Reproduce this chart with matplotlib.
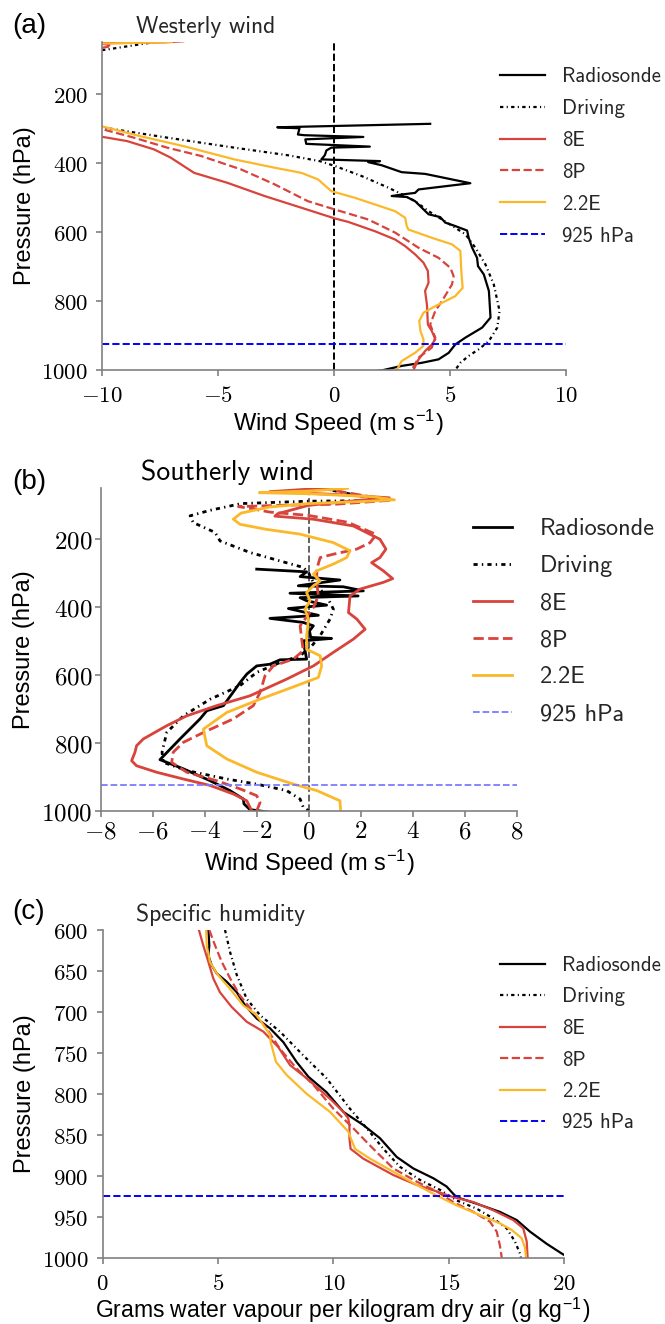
import numpy as np
import matplotlib.pyplot as plt
from matplotlib.ticker import FuncFormatter

plt.rcParams['mathtext.fontset'] = 'cm'

# ---------------- (a) westerly wind ----------------
west_radio_p = [287, 297, 300, 318, 320, 325, 332, 345, 353, 356, 364, 378, 390, 395, 398,
                407, 427, 432, 435, 459, 477, 487, 491, 496, 499, 511, 530, 549, 557, 573,
                583, 596, 617, 646, 675, 699, 723, 771, 848, 877, 906, 926, 950, 969, 979,
                988, 1000, 1010]
west_radio_u = [4.14, -2.45, -1.49, -1.56, -1.27, 1.26, -1.24, -1.2, 1.54, -0.12, -0.33, -0.4,
                -0.55, 1.98, 1.47, 2.05, 2.91, 3.92, 4.14, 5.87, 3.64, 3.49, 3.0, 2.48, 3.13,
                3.49, 3.78, 4.07, 4.57, 4.79, 5.22, 5.73, 5.8, 5.95, 6.16, 6.2, 6.45, 6.67,
                6.74, 6.38, 5.66, 5.22, 4.94, 4.5, 3.78, 2.91, 2.12, 1.2]

west_drive_p = [45, 53, 72, 90, 150, 220, 280, 298, 327, 356, 378, 395, 409, 438, 472, 491,
                511, 540, 564, 588, 607, 646, 694, 752, 829, 877, 916, 940, 959, 979, 1000]
west_drive_u = [-7.5, -8.0, -9.8, -12.0, -22.0, -24.0, -16.0, -9.93, -7.19, -4.3, -1.99,
                -0.62, 0.03, 1.18, 2.34, 2.92, 3.49, 4.07, 4.65, 5.22, 5.66, 6.09, 6.52, 6.88,
                7.13, 7.03, 6.67, 6.23, 5.8, 5.44, 5.22]

west_8e_p = [48, 51, 54, 70, 150, 250, 310, 325, 337, 361, 385, 429, 458, 496, 530, 561, 571,
             598, 622, 641, 665, 689, 713, 747, 771, 810, 868, 887, 911, 926, 945, 969, 1000]
west_8e_u = [-6.5, -7.3, -10.2, -13.0, -24.0, -22.0, -13.0, -9.96, -8.92, -7.76, -7.04, -6.03,
             -4.59, -3.0, -1.41, 0.03, 0.61, 1.76, 2.63, 3.06, 3.49, 3.85, 4.04, 4.07, 3.92,
             4.0, 4.04, 4.21, 4.36, 4.21, 3.92, 3.64, 3.42]

west_8p_p = [50, 57, 62, 75, 150, 250, 295, 303, 327, 356, 380, 419, 462, 511, 535, 564, 602,
             646, 675, 704, 728, 752, 800, 829, 868, 906, 935, 964, 1000]
west_8p_u = [-11.0, -9.8, -9.6, -10.6, -23.0, -21.0, -12.0, -9.96, -8.63, -7.19, -5.74, -4.01,
             -2.57, -1.13, 0.03, 1.47, 2.63, 3.64, 4.5, 5.01, 5.15, 5.08, 4.65, 4.36, 4.14,
             4.36, 4.21, 3.64, 3.35]

west_22e_p = [50, 52, 55, 70, 150, 250, 290, 295, 323, 352, 390, 414, 429, 448, 482, 501, 540,
              559, 583, 593, 617, 636, 655, 713, 762, 786, 815, 834, 858, 887, 911, 930, 950,
              974, 1000]
west_22e_u = [-7.0, -8.1, -10.3, -13.0, -23.0, -21.0, -12.0, -9.96, -8.34, -6.46, -4.3, -2.57,
              -1.41, -0.69, -0.12, 0.89, 2.63, 3.06, 3.13, 3.2, 4.21, 5.08, 5.44, 5.48, 5.54,
              5.22, 4.36, 3.85, 3.67, 3.72, 3.85, 3.85, 3.49, 2.91, 2.7]

# ---------------- (b) southerly wind ----------------
south_radio_p = [288, 296, 310, 320, 337, 340, 352, 359, 367, 372, 381, 394, 404, 424, 433,
                 445, 455, 470, 489, 492, 499, 528, 553, 555, 568, 573, 597, 622, 690, 705,
                 729, 788, 849, 876, 911, 940, 965, 979, 996, 1005]
south_radio_v = [-2.0, -0.08, -0.33, 1.2, -0.4, 1.33, 2.1, -0.72, 1.9, -0.33, -0.08, 0.69,
                 -0.78, 0.37, -1.49, -0.21, 0.18, 0.03, 0.08, 0.88, -0.21, -0.14, -0.08, -1.1,
                 -1.49, -2.0, -2.38, -2.64, -3.28, -3.92, -4.18, -4.95, -5.72, -4.82, -3.79,
                 -3.03, -2.51, -2.49, -2.26, -1.4]

south_drive_p = [48, 70, 86, 88, 95, 115, 131, 151, 180, 205, 239, 264, 283, 298, 327, 367,
                 406, 435, 484, 514, 543, 563, 592, 631, 671, 720, 769, 827, 857, 881, 906,
                 921, 940, 965, 989, 1000]
south_drive_v = [0.4, 1.8, 3.0, 0.0, -2.6, -3.8, -4.56, -4.44, -3.6, -3.41, -2.26, -1.1,
                 -0.21, -0.01, 0.18, 0.69, 0.95, 0.82, 0.44, 0.12, -0.33, -1.1, -2.0, -2.64,
                 -3.79, -4.82, -5.46, -5.64, -5.59, -4.69, -3.15, -2.0, -0.85, -0.33, -0.21, 0.0]

south_8e_p = [50, 60, 68, 78, 85, 100, 125, 132, 141, 161, 200, 229, 254, 269, 293, 316, 327,
              347, 367, 416, 435, 465, 494, 533, 573, 612, 661, 690, 720, 749, 788, 808, 827,
              852, 867, 886, 906, 925, 950, 970, 1000]
south_8e_v = [0.5, -1.5, 1.0, 3.1, 2.0, 0.0, -1.2, -1.3, 0.18, 1.72, 2.74, 2.97, 2.74, 2.42,
              2.87, 3.23, 2.87, 1.97, 1.59, 1.53, 1.85, 2.17, 1.72, 0.95, 0.18, -0.85, -2.26,
              -3.54, -4.69, -5.46, -6.36, -6.62, -6.68, -6.81, -6.62, -5.85, -4.82, -3.79,
              -2.9, -2.38, -2.19]

south_8p_p = [50, 70, 85, 97, 100, 104, 110, 120, 130, 150, 186, 210, 229, 244, 254, 288, 327,
              367, 401, 455, 494, 528, 553, 573, 602, 651, 690, 729, 769, 798, 827, 857, 886,
              911, 935, 955, 975, 1000]
south_8p_v = [0.5, 2.0, 3.2, 1.0, -1.0, -2.7, -2.2, -1.5, 0.0, 1.5, 2.6, 2.36, 1.85, 0.95,
              0.44, 0.31, 0.31, 0.37, 0.18, -0.33, -0.27, -0.21, -0.59, -1.36, -1.68, -1.87,
              -2.13, -2.9, -4.05, -4.82, -5.21, -5.27, -4.69, -3.54, -2.64, -2.0, -1.87, -2.0]

south_22e_p = [50, 58, 63, 66, 75, 84, 89, 95, 105, 123, 141, 156, 171, 185, 210, 234, 254,
               273, 293, 303, 323, 337, 357, 381, 406, 435, 484, 524, 543, 573, 607, 631, 671,
               710, 759, 808, 847, 886, 921, 940, 970, 1000]
south_22e_v = [1.5, 0.0, -1.9, 0.0, 2.5, 3.3, 2.0, 0.0, -1.5, -2.6, -2.9, -2.64, -1.62, -0.33,
               0.95, 1.59, 1.46, 0.95, 0.31, 0.18, 0.44, 0.18, -0.08, 0.05, -0.14, -0.01,
               -0.08, -0.08, 0.44, 0.5, 0.37, -0.46, -1.87, -3.15, -4.05, -3.92, -3.15, -2.0,
               -0.59, 0.31, 1.2, 1.23]

# ---------------- (c) specific humidity ----------------
hum_radio_p = [600, 619, 631, 643, 653, 663, 676, 692, 708, 720, 737, 761, 779, 798, 822, 838,
               854, 877, 891, 903, 913, 922, 926, 934, 944, 954, 968, 983, 995, 1000]
hum_radio_q = [4.58, 4.62, 4.58, 4.72, 4.94, 5.37, 5.81, 6.17, 6.67, 7.25, 7.83, 8.4, 8.91,
               9.7, 10.43, 11.29, 12.01, 12.74, 13.46, 14.33, 14.9, 15.19, 15.34, 16.2, 17.21,
               17.94, 18.51, 19.24, 19.9, 20.2]

hum_drive_p = [600, 627, 655, 684, 704, 724, 753, 781, 818, 842, 867, 889, 905, 917, 930, 940,
               952, 964, 980, 995, 1000]
hum_drive_q = [5.3, 5.52, 5.81, 6.24, 6.82, 7.68, 8.69, 9.7, 10.71, 11.44, 12.16, 12.88, 13.75,
               14.61, 15.34, 16.2, 16.92, 17.5, 17.86, 18.08, 18.12]

hum_8e_p = [600, 619, 639, 659, 676, 694, 712, 724, 743, 765, 781, 806, 822, 830, 838, 854,
            867, 879, 899, 911, 919, 926, 932, 942, 954, 964, 980, 1000]
hum_8e_q = [4.17, 4.36, 4.58, 4.79, 5.08, 5.59, 6.24, 6.96, 7.61, 8.12, 8.84, 9.85, 10.43,
            10.64, 10.69, 10.69, 10.74, 11.29, 12.59, 13.6, 14.47, 15.19, 16.06, 16.92, 17.79,
            18.22, 18.37, 18.41]

hum_8p_p = [600, 619, 639, 659, 680, 700, 720, 745, 769, 789, 818, 842, 863, 891, 907, 919,
            932, 944, 956, 968, 985, 1000]
hum_8p_q = [4.62, 4.87, 5.16, 5.52, 5.95, 6.53, 7.1, 7.68, 8.4, 9.13, 9.99, 10.86, 11.58,
            12.59, 13.6, 14.47, 15.19, 16.06, 16.78, 17.07, 17.21, 17.29]

hum_22e_p = [600, 619, 639, 653, 672, 692, 704, 728, 737, 761, 777, 800, 822, 846, 867, 879,
             895, 911, 924, 936, 948, 958, 966, 976, 988, 1000]
hum_22e_q = [4.48, 4.51, 4.65, 4.94, 5.52, 6.09, 6.67, 7.25, 7.28, 7.51, 7.97, 8.84, 9.85,
             10.64, 10.93, 11.58, 12.59, 13.6, 14.47, 15.34, 16.35, 17.21, 17.72, 18.15, 18.3,
             18.34]

series_names = ['Radiosonde', 'Driving', '8E', '8P', '2.2E', '925 hPa']
red = '#d8433b'
amber = '#fbb829'
driving_ls = (0, (1.5, 1.5, 0.5, 1.5))


def cm_tick(v, pos):
    # tick numbers in computer modern
    if v < 0:
        return r'$-\mathrm{%d}$' % abs(v)
    return r'$\mathrm{%d}$' % v


def style_axes(ax, fs, pad=6):
    for s in ['top', 'right']:
        ax.spines[s].set_visible(False)
    for s in ['left', 'bottom']:
        ax.spines[s].set_color('#808080')
        ax.spines[s].set_linewidth(1.2)
    ax.tick_params(colors='#808080', labelcolor='black', length=4, width=1.2,
                   direction='out', labelsize=fs, pad=pad)
    ax.xaxis.set_major_formatter(FuncFormatter(cm_tick))
    ax.yaxis.set_major_formatter(FuncFormatter(cm_tick))


def add_legend(ax, fs, x, y, hl, tp, ls, fig):
    leg = ax.legend(loc='upper left', bbox_to_anchor=(x, y), bbox_transform=fig.transFigure,
                    frameon=False, prop={'family': 'cmss10', 'size': fs},
                    handlelength=hl, handletextpad=tp, borderpad=0, borderaxespad=0,
                    labelspacing=ls)
    for t in leg.get_texts():
        t.set_color('#262626')
    return leg


fig = plt.figure(figsize=(6.65, 13.24), dpi=100)

# (a) westerly wind
ax1 = fig.add_axes([0.1534, 0.7205, 0.698, 0.2478])
lw = 1.6
ax1.axvline(0, color='black', ls='--', lw=1.4)
ax1.plot(west_radio_u, west_radio_p, color='black', lw=lw, label=series_names[0])
ax1.plot(west_drive_u, west_drive_p, color='black', ls=driving_ls, lw=lw, label=series_names[1])
ax1.plot(west_8e_u, west_8e_p, color=red, lw=lw, label=series_names[2])
ax1.plot(west_8p_u, west_8p_p, color=red, ls='--', lw=lw, label=series_names[3])
ax1.plot(west_22e_u, west_22e_p, color=amber, lw=lw, label=series_names[4])
ax1.axhline(925, color='blue', ls='--', lw=1.4, label=series_names[5])
ax1.set_xlim(-10, 10)
ax1.set_ylim(1000, 50)
ax1.set_xticks([-10, -5, 0, 5, 10])
ax1.set_yticks([200, 400, 600, 800, 1000])
style_axes(ax1, 16.5)
ax1.set_xlabel(r'Wind Speed (m s$^{\mathregular{-1}}$)', family='Liberation Sans',
               fontsize=17, va='center')
ax1.xaxis.set_label_coords(0.51, -0.162)
ax1.set_ylabel('Pressure (hPa)', family='Liberation Sans', fontsize=17, va='center')
ax1.yaxis.set_label_coords(-0.165, 0.5)
add_legend(ax1, 15, 500 / 665, 1 - 67 / 1324, 2.15, 0.85, 0.62, fig)
fig.text(136 / 665, 1 - 32.7 / 1324, 'Westerly wind', family='cmss10', fontsize=17,
         va='baseline', color='#262626')
fig.text(12 / 665, 1 - 26 / 1324, '(a)', family='Liberation Sans', fontsize=20, va='center')

# (b) southerly wind
ax2 = fig.add_axes([0.1514, 0.3875, 0.6256, 0.2437])
lw = 2.0
ax2.axvline(0, color='#555555', ls='--', lw=1.3)
ax2.plot(south_radio_v, south_radio_p, color='black', lw=lw, label=series_names[0])
ax2.plot(south_drive_v, south_drive_p, color='black', ls=driving_ls, lw=lw, label=series_names[1])
ax2.plot(south_8e_v, south_8e_p, color=red, lw=lw, label=series_names[2])
ax2.plot(south_8p_v, south_8p_p, color=red, ls='--', lw=lw, label=series_names[3])
ax2.plot(south_22e_v, south_22e_p, color=amber, lw=lw, label=series_names[4])
ax2.axhline(925, color='#7b7bff', ls='--', lw=1.3, label=series_names[5])
ax2.set_xlim(-8, 8)
ax2.set_ylim(1000, 50)
ax2.set_xticks(np.arange(-8, 9, 2))
ax2.set_yticks([200, 400, 600, 800, 1000])
style_axes(ax2, 18, pad=2)
ax2.set_xlabel(r'Wind Speed (m s$^{\mathregular{-1}}$)', family='Liberation Sans',
               fontsize=17, va='center')
ax2.xaxis.set_label_coords(0.503, -0.162)
ax2.set_ylabel('Pressure (hPa)', family='Liberation Sans', fontsize=17, va='center')
ax2.yaxis.set_label_coords(-0.185, 0.5)
add_legend(ax2, 17.5, 473 / 665, 1 - 518 / 1324, 1.6, 1.15, 0.62, fig)
fig.text(141 / 665, 1 - 480 / 1324, 'Southerly wind', family='cmss10', fontsize=20,
         va='baseline', color='black')
fig.text(12 / 665, 1 - 482 / 1324, '(b)', family='Liberation Sans', fontsize=20, va='center')

# (c) specific humidity
ax3 = fig.add_axes([0.1544, 0.05, 0.6942, 0.2476])
lw = 1.6
ax3.plot(hum_radio_q, hum_radio_p, color='black', lw=lw, label=series_names[0])
ax3.plot(hum_drive_q, hum_drive_p, color='black', ls=driving_ls, lw=lw, label=series_names[1])
ax3.plot(hum_8e_q, hum_8e_p, color=red, lw=lw, label=series_names[2])
ax3.plot(hum_8p_q, hum_8p_p, color=red, ls='--', lw=lw, label=series_names[3])
ax3.plot(hum_22e_q, hum_22e_p, color=amber, lw=lw, label=series_names[4])
ax3.axhline(925, color='blue', ls='--', lw=1.4, label=series_names[5])
ax3.set_xlim(0, 20)
ax3.set_ylim(1000, 600)
ax3.set_xticks([0, 5, 10, 15, 20])
ax3.set_yticks(np.arange(600, 1001, 50))
style_axes(ax3, 16.5)
ax3.set_xlabel(r'Grams water vapour per kilogram dry air (g kg$^{\mathregular{-1}}$)',
               family='Liberation Sans', fontsize=16.5, va='center')
ax3.xaxis.set_label_coords(0.52, -0.16)
ax3.set_ylabel('Pressure (hPa)', family='Liberation Sans', fontsize=17, va='center')
ax3.yaxis.set_label_coords(-0.168, 0.5)
add_legend(ax3, 15, 500 / 665, 1 - 956 / 1324, 2.15, 0.85, 0.6, fig)
fig.text(136 / 665, 1 - 920.7 / 1324, 'Specific humidity', family='cmss10', fontsize=17,
         va='baseline', color='#262626')
fig.text(12 / 665, 1 - 912 / 1324, '(c)', family='Liberation Sans', fontsize=20, va='center')

fig.savefig('out.png', dpi=100)
